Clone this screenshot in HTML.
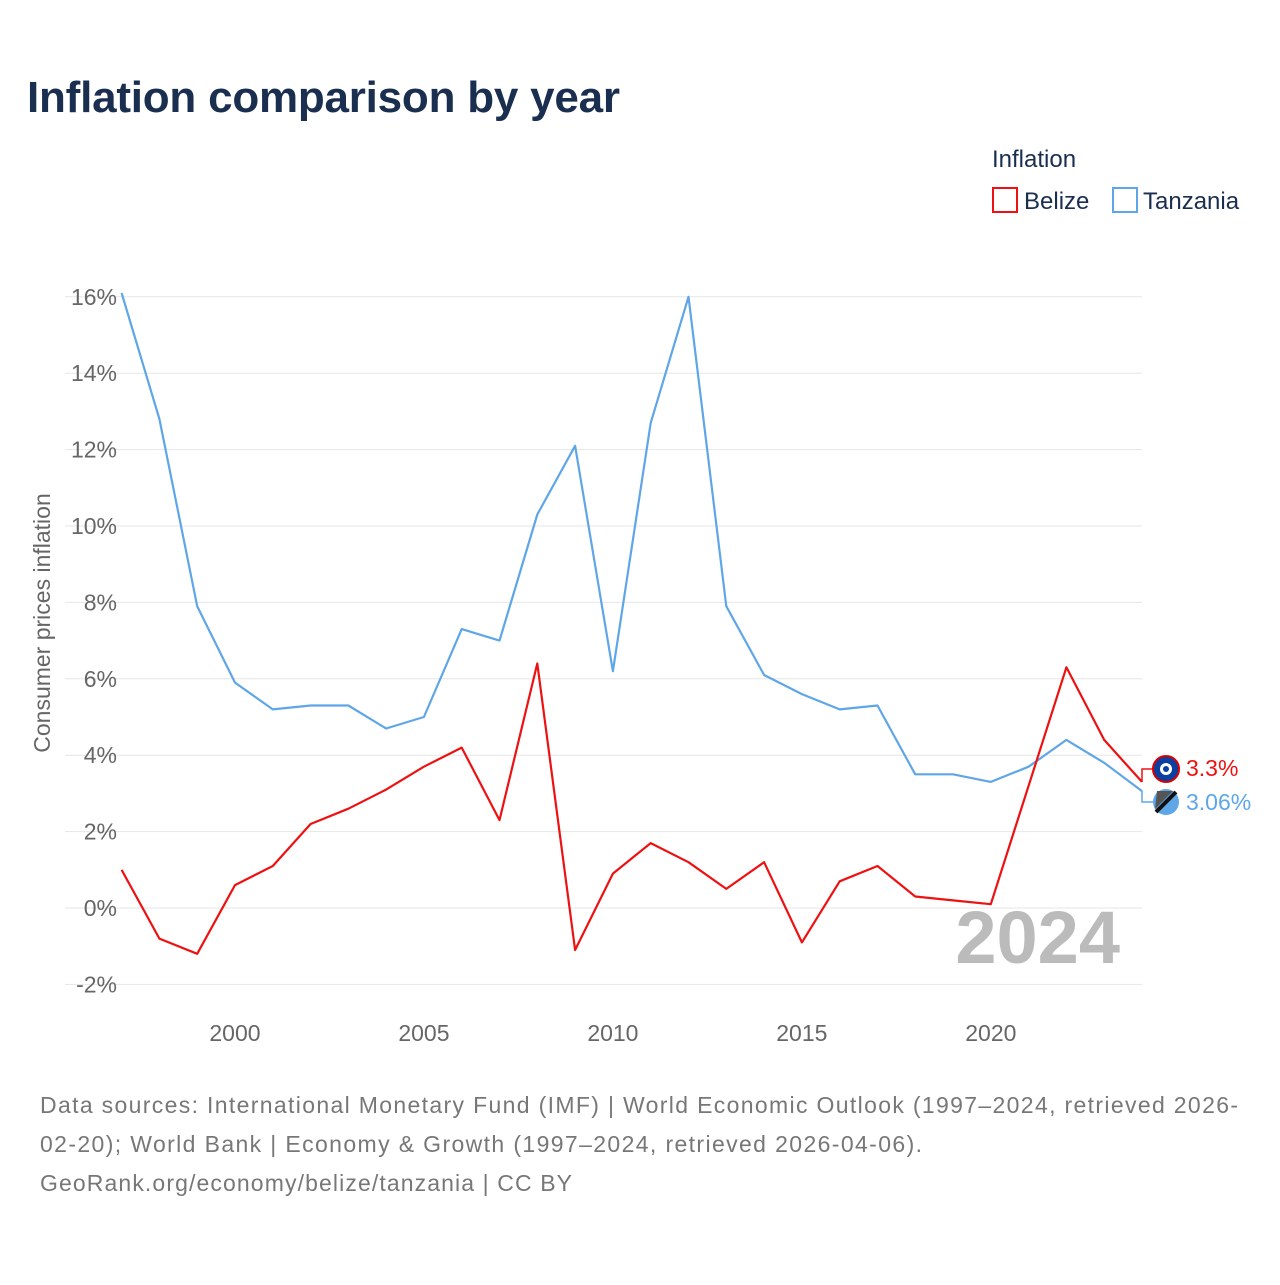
<!DOCTYPE html>
<html><head><meta charset="utf-8"><style>
body{margin:0;background:#fff;font-family:"Liberation Sans",sans-serif;}
svg text{font-family:"Liberation Sans",sans-serif;}
</style></head><body>
<svg id="chart" width="1280" height="1280" viewBox="0 0 1280 1280">
<text x="27" y="112" font-size="44" font-weight="bold" fill="#1a2e4f" textLength="593">Inflation comparison by year</text>
<text x="992" y="167" font-size="24" fill="#1a2e4f">Inflation</text>
<g><rect x="993" y="188" width="24" height="24" fill="none" stroke="#ee1111" stroke-width="2"/><text x="1024" y="209" font-size="24" fill="#1a2e4f">Belize</text></g>
<g><rect x="1113" y="188" width="24" height="24" fill="none" stroke="#5fa6e8" stroke-width="2"/><text x="1143" y="209" font-size="24" fill="#1a2e4f">Tanzania</text></g>
<g id="grid"></g><g id="yticks"></g><g id="xticks"></g><g id="series"></g>
<text transform="translate(50,623) rotate(-90)" text-anchor="middle" font-size="23" fill="#666">Consumer prices inflation</text>
<text x="1120" y="963" text-anchor="end" font-size="74" font-weight="bold" fill="#bbb">2024</text>
<g><circle cx="1166" cy="769" r="13" fill="#0b3fa0" stroke="#d00" stroke-width="2"/><circle cx="1166" cy="769" r="6" fill="#fff"/><circle cx="1166" cy="769" r="3" fill="#0b3fa0"/></g>
<g><circle cx="1166" cy="802" r="13" fill="#5fa6e8"/><path d="M1155,809 L1173,791 L1157,791 Z" fill="#555"/><line x1="1156" y1="812" x2="1176" y2="792" stroke="#111" stroke-width="4"/></g>
<text x="1186" y="776" font-size="23" fill="#ee1111">3.3%</text>
<text x="1186" y="810" font-size="23" fill="#5fa6e8">3.06%</text>
<text font-size="23" fill="#777"><tspan x="40" y="1113" textLength="1198">Data sources: International Monetary Fund (IMF) | World Economic Outlook (1997–2024, retrieved 2026-</tspan><tspan x="40" y="1152" textLength="882">02-20); World Bank | Economy &amp; Growth (1997–2024, retrieved 2026-04-06).</tspan><tspan x="40" y="1191" textLength="532">GeoRank.org/economy/belize/tanzania | CC BY</tspan></text>
</svg>
<script>
const years=[1997,1998,1999,2000,2001,2002,2003,2004,2005,2006,2007,2008,2009,2010,2011,2012,2013,2014,2015,2016,2017,2018,2019,2020,2021,2022,2023,2024];
const belize=[1.0,-0.8,-1.2,0.6,1.1,2.2,2.6,3.1,3.7,4.2,2.3,6.4,-1.1,0.9,1.7,1.2,0.5,1.2,-0.9,0.7,1.1,0.3,0.2,0.1,3.2,6.3,4.4,3.3];
const tanzania=[16.1,12.8,7.9,5.9,5.2,5.3,5.3,4.7,5.0,7.3,7.0,10.3,12.1,6.2,12.7,16.0,7.9,6.1,5.6,5.2,5.3,3.5,3.5,3.3,3.7,4.4,3.8,3.06];
const yTicks=[-2,0,2,4,6,8,10,12,14,16];
const xTicks=[2000,2005,2010,2015,2020];
const NS="http://www.w3.org/2000/svg";
const xS=y=>121.6+(y-1997)*(1142-121.6)/27;
const yS=v=>908-v*38.2;
function mk(t,a,p){const e=document.createElementNS(NS,t);for(const k in a)e.setAttribute(k,a[k]);p.appendChild(e);return e;}
const grid=document.getElementById('grid'),yt=document.getElementById('yticks'),xt=document.getElementById('xticks'),ser=document.getElementById('series');
yTicks.forEach(v=>{
 const l=mk('line',{x1:65,x2:1142,y1:yS(v),y2:yS(v),stroke:'#e6e6e6','stroke-width':1},grid);
 
 
 const t=mk('text',{x:117,y:yS(v)+8,'text-anchor':'end','font-size':23,fill:'#666'},yt);
 t.textContent=v+'%';
 
 
});
xTicks.forEach(v=>{
 const t=mk('text',{x:xS(v),y:1041,'text-anchor':'middle','font-size':23,fill:'#666'},xt);
 t.textContent=v;
 
 
});
function line(vals,col,name){
 const d=vals.map((v,i)=>(i?'L':'M')+xS(years[i]).toFixed(1)+','+yS(v).toFixed(1)).join(' ');
 const p=mk('path',{d:d,fill:'none',stroke:col,'stroke-width':2.2,'stroke-linejoin':'round'},ser);
 
 
}
line(tanzania,'#5fa6e8','tanzania-line');
line(belize,'#ee1111','belize-line');
const c1=mk('path',{d:`M${xS(2024)},${yS(belize[27])} L1142,769 L1153,769`,fill:'none',stroke:'#ee1111','stroke-width':1.5},ser);


const c2=mk('path',{d:`M${xS(2024)},${yS(tanzania[27])} L1142,802 L1153,802`,fill:'none',stroke:'#5fa6e8','stroke-width':1.5},ser);


</script>
</body></html>
